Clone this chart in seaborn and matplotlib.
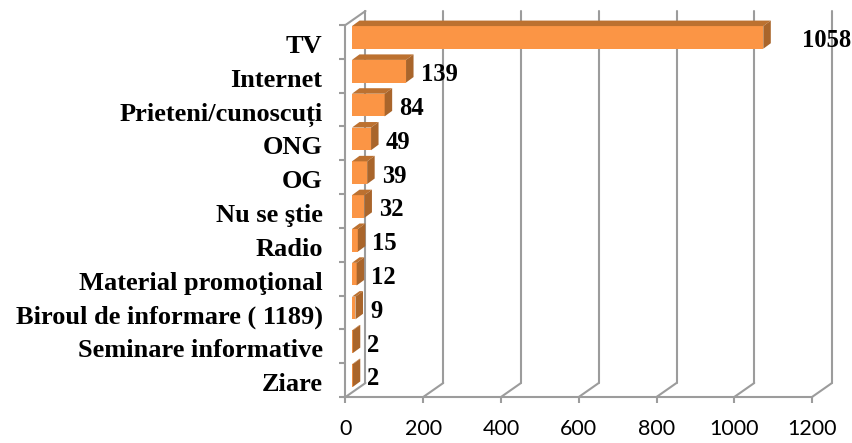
import matplotlib
matplotlib.use('Agg')
import matplotlib.pyplot as plt
import matplotlib.transforms as mtrans
import seaborn as sns
import pandas as pd

# Datos del grafico
categorias = ['TV', 'Internet', 'Prieteni/cunoscuți', 'ONG', 'OG', 'Nu se ştie', 'Radio',
              'Material promoţional', 'Biroul de informare ( 1189)',
              'Seminare informative', 'Ziare']
valores = [1058, 139, 84, 49, 39, 32, 15, 12, 9, 2, 2]
ticks_x = [0, 200, 400, 600, 800, 1000, 1200]

df = pd.DataFrame({'cat': categorias, 'val': valores})

W, H = 853, 443
izq, der, arriba, abajo = 345.5, 812, 25, 397
px_x = (der - izq) / 1200
px_y = (abajo - arriba) / len(categorias)

GRIS = '#9c9c9c'
FRENTE = '#fb9545'
TECHO = '#bc7130'
LADO = '#a9652b'

sns.set_style('white')
plt.rcParams['font.family'] = ['Liberation Serif', 'DejaVu Serif']

fig = plt.figure(figsize=(W / 100, H / 100), dpi=100)
ax = fig.add_axes([izq / W, 1 - abajo / H, (der - izq) / W, (abajo - arriba) / H])

sns.barplot(data=df, x='val', y='cat', color=FRENTE, saturation=1, width=0.67, ax=ax, zorder=4)

ax.set_xlim(0, 1200)
ax.set_ylim(len(categorias) - 0.5, -0.5)
ax.set_xlabel('')
ax.set_ylabel('')

# fondo 3D: lineas de la pared y del piso
fondo_x = 20 / px_x
fondo_y = 14 / px_y
y0, y1 = ax.get_ylim()
for v in ticks_x:
    ax.plot([v + fondo_x, v + fondo_x], [y0 - fondo_y, y1 - fondo_y], color=GRIS, lw=1.5,
            clip_on=False, zorder=1)
    ax.plot([v, v + fondo_x], [y0, y0 - fondo_y], color=GRIS, lw=1.5, clip_on=False, zorder=1)
ax.plot([0, fondo_x], [y1, y1 - fondo_y], color=GRIS, lw=1.5, clip_on=False, zorder=1)

# barras con profundidad
ox, oy = 6.5 / px_x, 4.5 / px_y
px, py = 7.5 / px_x, 5.5 / px_y
for patch, v in zip(ax.patches, valores):
    y = patch.get_y() - oy
    h = patch.get_height()
    patch.set_xy((ox, y))
    patch.set_clip_on(False)
    patch.set_linewidth(0)
    ax.fill([ox, ox + v, ox + v + px, ox + px], [y, y, y - py, y - py],
            color=TECHO, lw=0, clip_on=False, zorder=4)
    ax.fill([ox + v, ox + v + px, ox + v + px, ox + v], [y, y - py, y + h - py, y + h],
            color=LADO, lw=0, clip_on=False, zorder=4)

# etiquetas de valor
for i, v in enumerate(valores):
    extra = 31 if i == 0 else 7
    ax.annotate(str(v), (v + ox + px, i), xytext=(extra * 0.72, 0.8), textcoords='offset points',
                ha='left', va='center', fontsize=17.7, fontweight='bold', color='black',
                annotation_clip=False, zorder=6)

for s in ['top', 'right']:
    ax.spines[s].set_visible(False)
for s in ['left', 'bottom']:
    ax.spines[s].set_color(GRIS)
    ax.spines[s].set_linewidth(1.5)

# marcas entre categorias, texto en el centro
ax.set_yticks([i - 0.5 for i in range(len(categorias) + 1)])
ax.set_yticklabels([])
ax.set_yticks(range(len(categorias)), labels=categorias, minor=True)
ax.tick_params(axis='y', which='major', length=4.5, width=1.5, color=GRIS, left=True)
ax.tick_params(axis='y', which='minor', length=0, pad=16.5, labelsize=19, labelcolor='black')
desplaza = mtrans.ScaledTranslation(0, -2 / 100, fig.dpi_scale_trans)
for t in ax.get_yticklabels(minor=True):
    t.set_fontweight('bold')
    t.set_transform(t.get_transform() + desplaza)

ax.set_xticks(ticks_x)
ax.tick_params(axis='x', length=4.5, width=1.5, color=GRIS, bottom=True, pad=11, labelsize=15.5,
               labelcolor='black')
for t in ax.get_xticklabels():
    t.set_fontfamily('Lato')

fig.savefig('out.png', dpi=100)
